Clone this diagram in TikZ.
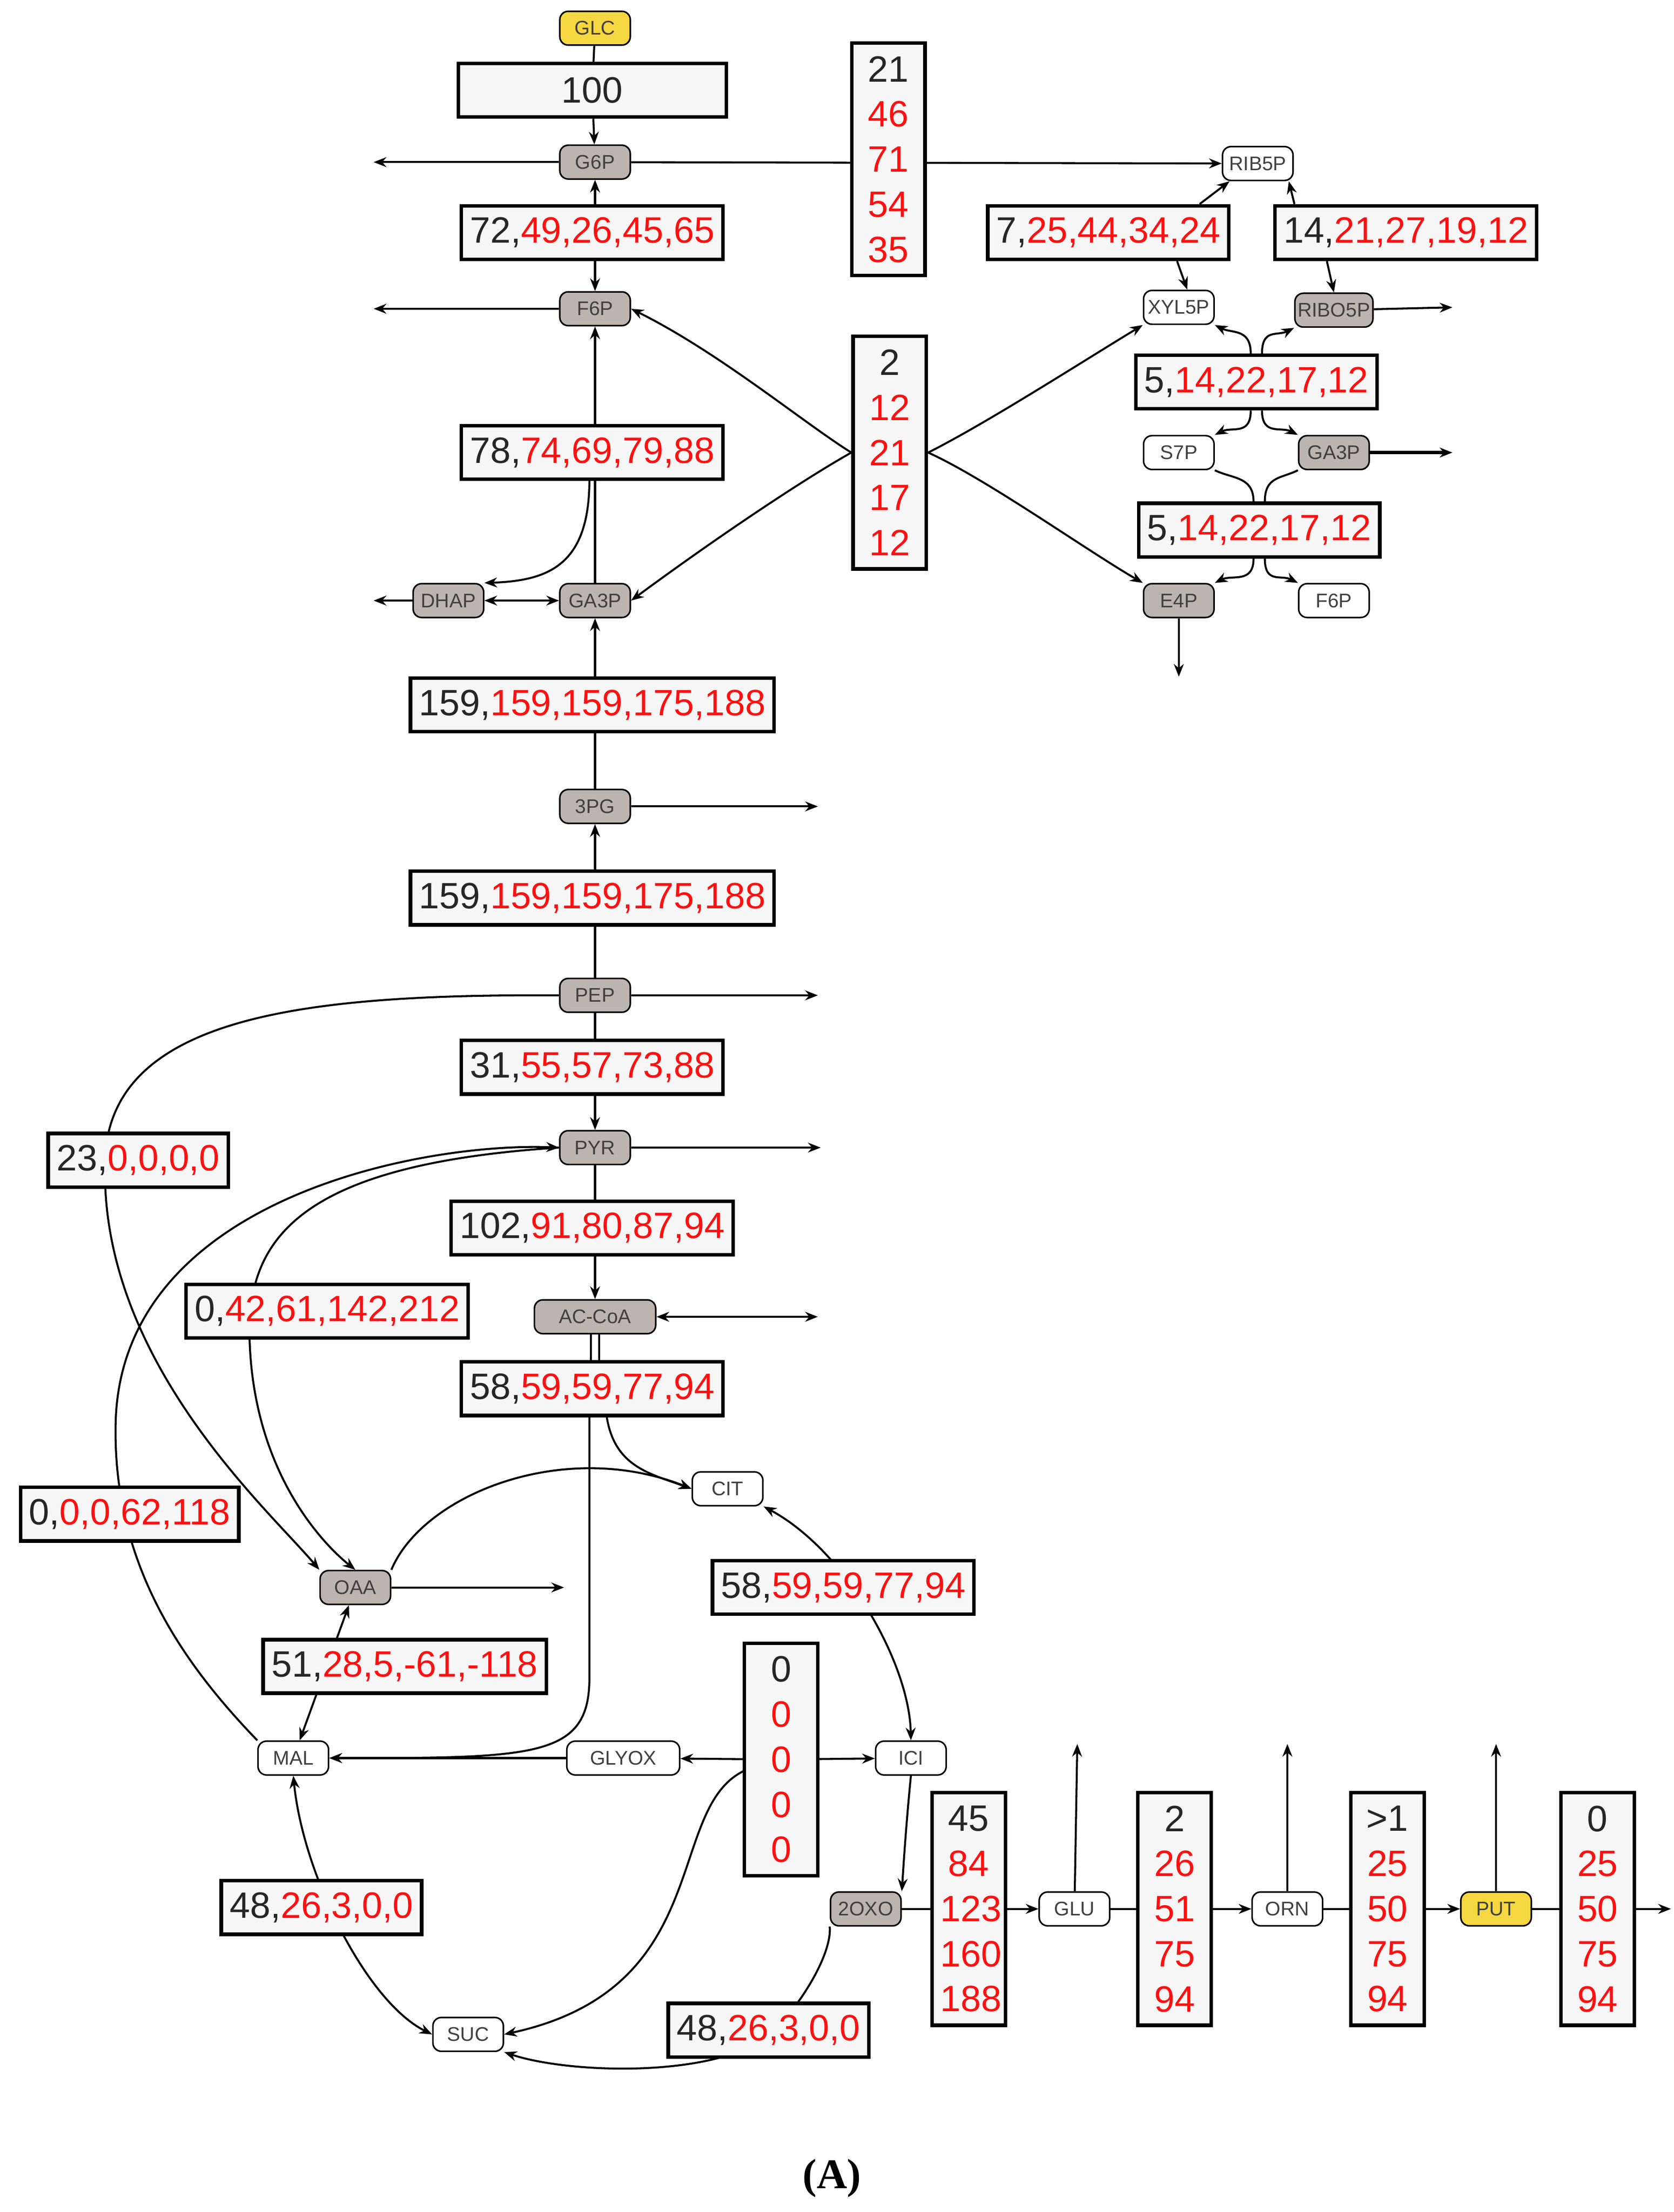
\documentclass[tikz,border=0pt]{standalone}
\usepackage{fontspec}
\setmainfont{Liberation Sans}
\newfontfamily\serifA{Liberation Serif}
\usetikzlibrary{arrows.meta}
\pgfdeclarelayer{bg}
\pgfsetlayers{bg,main}
\definecolor{mgray}{HTML}{BBB4AF}
\definecolor{myel}{HTML}{F5D742}
\definecolor{bfill}{HTML}{F6F6F6}
\definecolor{rd}{HTML}{FF1010}
\newcommand\R[1]{\textcolor{rd}{#1}}
\tikzset{
 met/.style={draw, rounded corners=6pt, line width=1.1pt, fill=white, font=\fontsize{14}{16}\selectfont, text=black!75, minimum width=50pt, minimum height=24pt, inner sep=2pt},
 gmet/.style={met, fill=mgray},
 ymet/.style={met, fill=myel},
 hbox/.style={draw, line width=2.5pt, fill=bfill, font=\fontsize{26}{28}\selectfont, text=black!85, inner xsep=6pt, minimum height=38pt},
 vbox/.style={hbox, align=center, text width=40pt, minimum height=165pt, font=\fontsize{26}{32}\selectfont},
 ar/.style={-{Stealth[length=9pt,width=7pt]}, line width=1.4pt},
 ln/.style={line width=1.4pt},
 dar/.style={{Stealth[length=9pt,width=7pt]}-{Stealth[length=9pt,width=7pt]}, line width=1.4pt}
}
\begin{document}
\begin{tikzpicture}[x=1pt,y=-1pt]
\useasboundingbox (0,0) rectangle (1187,1569);
% metabolites
\node[ymet] (glc) at (422,20) {GLC};
\node[gmet] (g6p) at (422,115) {G6P};
\node[met] (rib5p) at (892,116) {RIB5P};
\node[gmet] (f6p) at (422,219) {F6P};
\node[met] (xyl5p) at (836,218) {XYL5P};
\node[gmet] (ribo5p) at (946,220) {RIBO5P};
\node[met] (s7p) at (836,321) {S7P};
\node[gmet] (ga3pr) at (946,321) {GA3P};
\node[gmet] (e4p) at (836,426) {E4P};
\node[met] (f6pr) at (946,426) {F6P};
\node[gmet] (dhap) at (318,426) {DHAP};
\node[gmet] (ga3p) at (422,426) {GA3P};
\node[gmet] (pg3) at (422,572) {3PG};
\node[gmet] (pep) at (422,706) {PEP};
\node[gmet] (pyr) at (422,814) {PYR};
\node[gmet, minimum width=86pt] (accoa) at (422,934) {AC-CoA};
\node[met] (cit) at (516,1056) {CIT};
\node[gmet] (oaa) at (252,1126) {OAA};
\node[met] (mal) at (208,1247) {MAL};
\node[met, minimum width=80pt] (glyox) at (442,1247) {GLYOX};
\node[met] (ici) at (646,1247) {ICI};
\node[gmet] (oxo) at (614,1354) {2OXO};
\node[met] (glu) at (762,1354) {GLU};
\node[met] (orn) at (913,1354) {ORN};
\node[ymet] (put) at (1061,1354) {PUT};
\node[met] (suc) at (332,1443) {SUC};
% free ends
\coordinate (g6pL) at (265,115);
\coordinate (f6pL) at (265,219);
\coordinate (dhapL) at (265,426);
\coordinate (ribo5pR) at (1030,218);
\coordinate (ga3prR) at (1030,321);
\coordinate (e4pD) at (836,480);
\coordinate (pg3R) at (580,572);
\coordinate (pepR) at (580,706);
\coordinate (pyrR) at (582,814);
\coordinate (accoaR) at (580,934);
\coordinate (oaaR) at (400,1126);
\coordinate (gluU) at (764,1237);
\coordinate (ornU) at (913,1237);
\coordinate (putU) at (1061,1237);
\coordinate (putR) at (1185,1354);
% boxes
\node[hbox, minimum width=190pt] (b100) at (420,64) {100};
\node[vbox] (vb1) at (630,113) {21\\\R{46}\\\R{71}\\\R{54}\\\R{35}};
\node[hbox] (b72) at (420,165) {72,\R{49,26,45,65}};
\node[hbox] (b7) at (786,165) {7,\R{25,44,34,24}};
\node[hbox] (b14) at (997,165) {14,\R{21,27,19,12}};
\node[vbox] (vb2) at (631,321) {2\\\R{12}\\\R{21}\\\R{17}\\\R{12}};
\node[hbox] (bt1) at (891,271) {5,\R{14,22,17,12}};
\node[hbox] (bt2) at (893,376) {5,\R{14,22,17,12}};
\node[hbox] (b78) at (420,321) {78,\R{74,69,79,88}};
\node[hbox] (b159a) at (420,500) {159,\R{159,159,175,188}};
\node[hbox] (b159b) at (420,637) {159,\R{159,159,175,188}};
\node[hbox] (b31) at (420,757) {31,\R{55,57,73,88}};
\node[hbox] (b23) at (98,823) {23,\R{0,0,0,0}};
\node[hbox] (b102) at (420,871) {102,\R{91,80,87,94}};
\node[hbox] (b042) at (232,930) {0,\R{42,61,142,212}};
\node[hbox] (b58a) at (420,985) {58,\R{59,59,77,94}};
\node[hbox] (b000) at (92,1074) {0,\R{0,0,62,118}};
\node[hbox] (b58b) at (598,1126) {58,\R{59,59,77,94}};
\node[hbox] (b51) at (287,1182) {51,\R{28,5,-61,-118}};
\node[vbox] (vb0) at (554,1248) {0\\\R{0}\\\R{0}\\\R{0}\\\R{0}};
\node[hbox] (b48a) at (228,1353) {48,\R{26,3,0,0}};
\node[vbox] (vb45) at (687,1354) {45\\\R{84}\\\R{123}\\\R{160}\\\R{188}};
\node[vbox] (vb2b) at (833,1354) {2\\\R{26}\\\R{51}\\\R{75}\\\R{94}};
\node[vbox] (vb1b) at (984,1354) {>1\\\R{25}\\\R{50}\\\R{75}\\\R{94}};
\node[vbox] (vb0b) at (1133,1354) {0\\\R{25}\\\R{50}\\\R{75}\\\R{94}};
\node[hbox] (b48b) at (545,1440) {48,\R{26,3,0,0}};
\node[font=\serifA\bfseries\fontsize{30}{32}\selectfont] (lblA) at (590,1545) {(A)};
% edges
\begin{pgfonlayer}{bg}
\draw[ln] (glc) -- (b100);
\draw[ar] (b100) -- (g6p);
\draw[ar] (g6p) -- (g6pL);
\draw[ar] (g6p) -- (rib5p);
\draw[dar] (g6p) -- (f6p);
\draw[ar] (f6p) -- (f6pL);
\draw[ar] (ga3p) -- (f6p);
\draw[ar] (418,340) .. controls (418,400) and (390,412) .. (dhap.north east);
\draw[dar] (dhap) -- (ga3p);
\draw[ar] (dhap) -- (dhapL);
\draw[ar] (vb2.west) .. controls (570,300) and (510,250) .. (f6p.east);
\draw[ar] (vb2.west) .. controls (570,340) and (510,380) .. (ga3p.east);
\draw[ar] (vb2.east) .. controls (700,300) and (770,255) .. (xyl5p.south west);
\draw[ar] (vb2.east) .. controls (700,340) and (770,390) .. (e4p.north west);
\draw[ar] ([xshift=-22pt]b7.north east) -- ([xshift=-20pt]rib5p.south);
\draw[ar] ([xshift=-38pt]b7.south east) -- ([xshift=6pt]xyl5p.north);
\draw[ar] ([xshift=15pt]b14.north west) -- ([xshift=22pt]rib5p.south);
\draw[ar] ([xshift=38pt]b14.south west) -- (ribo5p.north);
\draw[ar] (ribo5p) -- (ribo5pR);
\draw[ar] ([xshift=-4pt]bt1.north) .. controls +(0,-18) and +(12,6) .. (xyl5p.south east);
\draw[ar] ([xshift=4pt]bt1.north) .. controls +(0,-18) and +(-12,6) .. (ribo5p.south west);
\draw[ar] ([xshift=-4pt]bt1.south) .. controls +(0,18) and +(12,-6) .. (s7p.north east);
\draw[ar] ([xshift=4pt]bt1.south) .. controls +(0,18) and +(-12,-6) .. (ga3pr.north west);
\draw[ln] ([xshift=-4pt]bt2.north) .. controls +(0,-18) and +(12,6) .. (s7p.south east);
\draw[ln] ([xshift=4pt]bt2.north) .. controls +(0,-18) and +(-12,6) .. (ga3pr.south west);
\draw[ar] ([xshift=-4pt]bt2.south) .. controls +(0,18) and +(12,-6) .. (e4p.north east);
\draw[ar] ([xshift=4pt]bt2.south) .. controls +(0,18) and +(-12,-6) .. (f6pr.north west);
\draw[ar, line width=2.4pt] (ga3pr) -- (ga3prR);
\draw[ar] (e4p) -- (e4pD);
\draw[ar] (pg3) -- (ga3p);
\draw[ar] (pg3) -- (pg3R);
\draw[ar] (pep) -- (pg3);
\draw[ar] (pep) -- (pepR);
\draw[ar] (pep) -- (pyr);
\draw[ar] (pyr) -- (pyrR);
\draw[ar] (pyr) -- (accoa);
\draw[dar] (accoa) -- (accoaR);
\draw[ar] (pep.west) .. controls (220,705) and (85,720) .. (75,815) .. controls (65,960) and (190,1070) .. (oaa.north west);
\draw[ar] (mal.north west) .. controls (130,1180) and (80,1110) .. (82,1010) .. controls (85,850) and (300,810) .. (pyr.west);
\draw[ar] (pyr.west) .. controls (210,826) and (175,880) .. (177,950) .. controls (180,1050) and (235,1100) .. (oaa.north);
\draw[ln] (419,946) -- (419,967);
\draw[ln] (425,946) -- (425,967);
\draw[ar] (430,1003) .. controls (435,1040) and (460,1045) .. (cit.west);
\draw[ar] (418,1003) -- (418,1190) .. controls (418,1247) and (380,1247) .. (mal.east);
\draw[ar] (oaa.north east) .. controls (300,1060) and (400,1020) .. (cit.west);
\draw[dar] (cit.south east) .. controls (600,1100) and (645,1180) .. (ici.north);
\draw[ar] (oaa) -- (oaaR);
\draw[dar] (mal) -- (oaa);
\draw[ar] (glyox) -- (mal);
\draw[ar] (vb0) -- (glyox);
\draw[ar] (vb0) -- (ici);
\draw[ar] (530,1255) .. controls (470,1280) and (510,1410) .. (suc.east);
\draw[ar] (ici.south) .. controls (642,1300) and (640,1335) .. (oxo.north east);
\draw[ar] (oxo) -- (glu);
\draw[ar] (glu) -- (gluU);
\draw[ar] (glu) -- (orn);
\draw[ar] (orn) -- (ornU);
\draw[ar] (orn) -- (put);
\draw[ar] (put) -- (putU);
\draw[ar] (put) -- (putR);
\draw[ar] (oxo.south west) .. controls (590,1385) and (570,1420) .. (545,1445) .. controls (500,1475) and (400,1470) .. (suc.south east);
\draw[dar] (mal.south) .. controls (215,1330) and (260,1420) .. (suc.west);
\end{pgfonlayer}
\end{tikzpicture}
\end{document}
